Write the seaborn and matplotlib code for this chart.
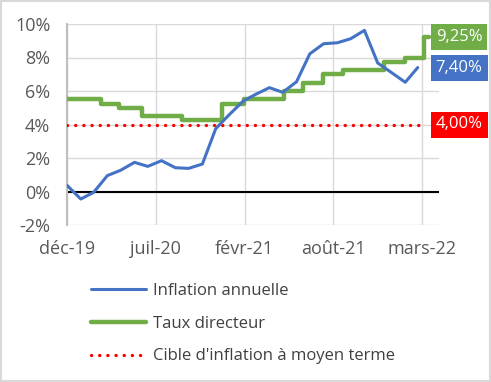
import numpy as np
import pandas as pd
import matplotlib
matplotlib.use("Agg")
import matplotlib.pyplot as plt
import matplotlib.dates as mdates
from matplotlib.patches import Rectangle
from matplotlib.ticker import FixedLocator, FixedFormatter
import seaborn as sns

# ---------------- data ----------------
inflation_dates = pd.date_range("2020-01-01", "2022-03-01", freq="MS")
inflation_values = [0.37, -0.45, -0.05, 0.95, 1.27, 1.74, 1.50, 1.84, 1.42, 1.38,
                    1.64, 3.75, 4.60, 5.40, 5.80, 6.20, 5.92, 6.55, 8.22, 8.82,
                    8.88, 9.12, 9.62, 7.67, 7.10, 6.52, 7.40]

rate_dates = pd.to_datetime(["2020-01-01", "2020-03-17", "2020-04-28", "2020-06-17",
                             "2020-09-15", "2020-12-15", "2021-02-02", "2021-05-04",
                             "2021-06-15", "2021-07-30", "2021-09-14", "2021-12-14",
                             "2022-02-01", "2022-03-16", "2022-03-27"])
rate_values = [5.50, 5.25, 5.00, 4.50, 4.25, 5.25, 5.50, 6.00, 6.50, 7.00,
               7.25, 7.75, 8.00, 9.25, 9.25]

target_dates = pd.to_datetime(["2020-01-01", "2022-03-10"])
target_values = [4.00, 4.00]

series_names = ["Inflation annuelle", "Taux directeur", "Cible d'inflation à moyen terme"]
tick_labels = ["déc-19", "juil-20", "févr-21", "août-21", "mars-22"]
y_ticks = [-2, 0, 2, 4, 6, 8, 10]

BLUE = "#4472C4"
GREEN = "#70AD47"
RED = "#FF0000"
TXT = "#595959"

# ---------------- style ----------------
sns.set_style("white")
plt.rcParams["font.family"] = ["Open Sans", "DejaVu Sans"]

fig = plt.figure(figsize=(4.91, 3.82), dpi=100)
fig.patch.set_facecolor("white")
ax = fig.add_axes([67 / 491, 1 - 225 / 382, 372 / 491, 201 / 382])

inf_df = pd.DataFrame({"date": inflation_dates, "value": inflation_values})
rate_df = pd.DataFrame({"date": rate_dates, "value": rate_values})
tgt_df = pd.DataFrame({"date": target_dates, "value": target_values})

sns.lineplot(data=inf_df, x="date", y="value", ax=ax, color=BLUE, linewidth=2.2,
             label=series_names[0], zorder=4)
sns.lineplot(data=rate_df, x="date", y="value", ax=ax, color=GREEN, linewidth=3.2,
             drawstyle="steps-post", label=series_names[1], zorder=3)
sns.lineplot(data=tgt_df, x="date", y="value", ax=ax, color=RED, linewidth=2.4,
             linestyle=(0, (0.05, 2.4)), dash_capstyle="round",
             label=series_names[2], zorder=3)

ax.axhline(0, color="black", linewidth=1.5, zorder=2)

# axes ranges and ticks
start = inflation_dates[0]
ax.set_xlim(mdates.date2num(start), mdates.date2num(start) + 838)
ax.set_ylim(-2, 10)
tick_pos = [mdates.date2num(start) + 200 * k for k in range(len(tick_labels))]
ax.xaxis.set_major_locator(FixedLocator(tick_pos))
ax.xaxis.set_major_formatter(FixedFormatter(tick_labels))
ax.set_yticks(y_ticks)
ax.set_yticklabels([f"{v}%" for v in y_ticks])
ax.set_xlabel("")
ax.set_ylabel("")

ax.grid(True, color="#d9d9d9", linewidth=1.0)
ax.set_axisbelow(True)
for s in ["top", "right", "bottom"]:
    ax.spines[s].set_visible(False)
ax.spines["left"].set_color("#bfbfbf")
ax.spines["left"].set_linewidth(1.5)
ax.tick_params(axis="both", length=0, labelsize=13, colors=TXT)
ax.tick_params(axis="y", pad=12)
ax.tick_params(axis="x", pad=11)

# data labels
def fmt(v):
    return f"{v:.2f}%".replace(".", ",")

for val, col in [(rate_values[-1], GREEN), (inflation_values[-1], BLUE), (target_values[-1], RED)]:
    ax.annotate(fmt(val), xy=(0.976, val), xycoords=ax.get_yaxis_transform(),
                xytext=(4.0, 0), textcoords="offset points", ha="left", va="center",
                fontsize=12, color="white", annotation_clip=False, zorder=6,
                bbox=dict(boxstyle="square,pad=0.3", facecolor=col, edgecolor="none"))

# legend
handles, labels = ax.get_legend_handles_labels()
ax.legend(handles, labels, loc="upper left", bbox_to_anchor=(91 / 491, 1 - 283 / 382),
          bbox_transform=fig.transFigure, frameon=False, fontsize=12,
          handlelength=3.3, handletextpad=0.4, labelspacing=1.0,
          borderpad=0, borderaxespad=0, labelcolor="#404040")

# outer border
fig.patches.append(Rectangle((0.002, 0.002), 0.996, 0.995, transform=fig.transFigure,
                             fill=False, edgecolor="#d9d9d9", linewidth=1.5))

fig.savefig("out.png", dpi=100)
